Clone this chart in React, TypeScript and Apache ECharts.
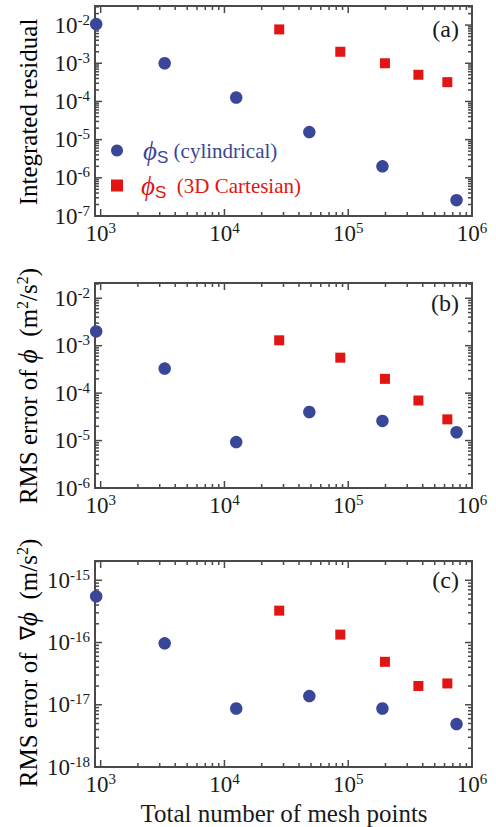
import React, { useEffect, useRef } from "react";
import * as echarts from "echarts";

const SERIF = "'Liberation Serif', 'Times New Roman', Times, serif";
const SANS = "'Liberation Sans', Arial, Helvetica, sans-serif";
const BLUE = "#3a4698";
const RED = "#e21414";
const FRAME = "#4a4a4a";
const INK = "#1a1a1a";

// Mesh sizes (x)
const meshCyl = [920, 3290, 12450, 48500, 189000, 750000];
const meshCart = [27700, 86300, 198000, 369000, 632000];

// (a) Integrated residual
const residualCyl = [0.0106, 1.0e-3, 1.26e-4, 1.58e-5, 2.0e-6, 2.6e-7];
const residualCart = [7.7e-3, 2.0e-3, 1.0e-3, 5.0e-4, 3.2e-4];

// (b) RMS error of phi
const rmsPhiCyl = [2.0e-3, 3.3e-4, 9.3e-6, 4.0e-5, 2.6e-5, 1.5e-5];
const rmsPhiCart = [1.3e-3, 5.6e-4, 2.0e-4, 7.0e-5, 2.8e-5];

// (c) RMS error of grad phi
const rmsGradCyl = [5.5e-16, 9.7e-17, 8.7e-18, 1.38e-17, 8.7e-18, 4.9e-18];
const rmsGradCart = [3.25e-16, 1.34e-16, 4.9e-17, 2.0e-17, 2.2e-17];

const xRange = [900, 1e6];
const yRanges = [
  [1e-7, 0.0316],
  [1e-6, 0.021],
  [1e-18, 2.04e-15],
];
const panelLabels = ["(a)", "(b)", "(c)"];

const grids = [
  { left: 95, right: 24, top: 6, height: 210 },
  { left: 95, right: 24, top: 283, height: 205 },
  { left: 95, right: 24, top: 561, height: 206 },
];

function isDecade(v: number) {
  const l = Math.log10(v);
  return Math.abs(l - Math.round(l)) < 1e-6;
}

function labelFmt(v: number) {
  if (!isDecade(v)) return "";
  const e = Math.round(Math.log10(v));
  return `{b|10}{s|${e < 0 ? "-" + Math.abs(e) : e}}`;
}

const labelRich = {
  b: { fontSize: 23, fontFamily: SERIF, color: INK, lineHeight: 26 },
  s: { fontSize: 15, fontFamily: SERIF, color: INK, lineHeight: 15, verticalAlign: "top" },
};

function tickData(xr: number[], yr: number[]) {
  const out: number[][] = [];
  const add = (r: number[], axis: number) => {
    const d0 = Math.floor(Math.log10(r[0]));
    const d1 = Math.ceil(Math.log10(r[1]));
    for (let d = d0; d <= d1; d++) {
      for (let k = 1; k <= 9; k++) {
        const v = k * Math.pow(10, d);
        if (v >= r[0] * 0.99999 && v <= r[1] * 1.00001) {
          if (axis === 0) out.push([v, yr[0], k === 1 ? 1 : 0, 0]);
          else out.push([xr[0], v, k === 1 ? 1 : 0, 1]);
        }
      }
    }
  };
  add(xr, 0);
  add(yr, 1);
  return out;
}

export default function App() {
  const ref = useRef<HTMLDivElement>(null);
  useEffect(() => {
    if (!ref.current) return;
    const chart = echarts.init(ref.current, undefined, { renderer: "svg" });

    const cylData = [residualCyl, rmsPhiCyl, rmsGradCyl];
    const cartData = [residualCart, rmsPhiCart, rmsGradCart];

    const series: any[] = [];
    grids.forEach((_, i) => {
      series.push({
        type: "scatter",
        name: "cyl",
        xAxisIndex: i,
        yAxisIndex: i,
        symbol: "circle",
        symbolSize: 12.5,
        itemStyle: { color: BLUE, opacity: 1 },
        clip: false,
        data: meshCyl.map((x, j) => [x, cylData[i][j]]),
        z: 3,
      });
      series.push({
        type: "scatter",
        name: "cart",
        xAxisIndex: i,
        yAxisIndex: i,
        symbol: "rect",
        symbolSize: 10,
        itemStyle: { color: RED, opacity: 1 },
        clip: false,
        data: meshCart.map((x, j) => [x, cartData[i][j]]),
        z: 3,
      });
      series.push({
        type: "custom",
        name: "ticks" + i,
        xAxisIndex: i,
        yAxisIndex: i,
        silent: true,
        clip: false,
        encode: { x: 0, y: 1 },
        data: tickData(xRange, yRanges[i]),
        renderItem: (params: any, api: any) => {
          const cs = params.coordSys;
          const major = api.value(2) === 1;
          const kind = api.value(3);
          const len = major ? 7 : 4;
          const pt = api.coord([api.value(0), api.value(1)]);
          const st = { stroke: FRAME, lineWidth: 1.5 };
          if (kind === 0) {
            const x = pt[0];
            const yb = cs.y + cs.height;
            return {
              type: "group",
              children: [
                { type: "line", shape: { x1: x, y1: yb, x2: x, y2: yb - len }, style: st },
                { type: "line", shape: { x1: x, y1: cs.y, x2: x, y2: cs.y + len }, style: st },
              ],
            };
          }
          const y = pt[1];
          const xr = cs.x + cs.width;
          return {
            type: "group",
            children: [
              { type: "line", shape: { x1: cs.x, y1: y, x2: cs.x + len, y2: y }, style: st },
              { type: "line", shape: { x1: xr, y1: y, x2: xr - len, y2: y }, style: st },
            ],
          };
        },
        z: 2,
      });
    });

    const graphic: any[] = [];
    const labelY = [29, 303, 580];
    panelLabels.forEach((t, i) => {
      graphic.push({
        type: "text",
        x: 459,
        y: labelY[i],
        style: {
          text: t,
          fontSize: 24,
          fontFamily: SERIF,
          fill: INK,
          align: "right",
          verticalAlign: "middle",
        },
      });
    });

    const titleRich = {
      t: { fontSize: 25, fontFamily: SERIF, color: INK, lineHeight: 28 },
      n: { fontSize: 21, fontFamily: SERIF, color: INK, lineHeight: 28 },
      p: { fontSize: 27, fontFamily: SERIF, fontStyle: "italic", color: INK, lineHeight: 28 },
      s: { fontSize: 16, fontFamily: SERIF, color: INK, verticalAlign: "top", lineHeight: 16 },
    };
    const yTitles = [
      { y: 112, text: "{t|Integrated residual}" },
      { y: 386, text: "{t|RMS error of }{p|\u03d5}{t|  (m}{s|2}{t|/s}{s|2}{t|)}" },
      { y: 663, text: "{t|RMS error of  }{n|\u2207}{p|\u03d5}{t|  (m/s}{s|2}{t|)}" },
    ];
    yTitles.forEach((yt) => {
      graphic.push({
        type: "text",
        x: 28,
        y: yt.y,
        rotation: Math.PI / 2,
        style: {
          text: yt.text,
          rich: titleRich,
          align: "center",
          verticalAlign: "middle",
        },
      });
    });
    graphic.push({
      type: "text",
      x: 284,
      y: 813,
      style: {
        text: "Total number of mesh points",
        fontSize: 25,
        fontFamily: SERIF,
        fill: INK,
        align: "center",
        verticalAlign: "middle",
      },
    });

    const legendRich = {
      pb: { fontSize: 27, fontFamily: SERIF, fontStyle: "italic", color: BLUE, lineHeight: 31, padding: [0, 0, 0, 15] },
      sb: { fontSize: 17, fontFamily: SANS, color: BLUE, verticalAlign: "top", lineHeight: 17, padding: [14, 0, 0, 0] },
      tb: { fontSize: 21, fontFamily: SERIF, color: BLUE, lineHeight: 31 },
      pr: { fontSize: 27, fontFamily: SERIF, fontStyle: "italic", color: RED, lineHeight: 31, padding: [0, 0, 0, 13] },
      sr: { fontSize: 17, fontFamily: SANS, color: RED, verticalAlign: "top", lineHeight: 17, padding: [14, 0, 0, 0] },
      tr: { fontSize: 21, fontFamily: SERIF, color: RED, lineHeight: 31 },
    };

    const option: any = {
      animation: false,
      backgroundColor: "#fff",
      grid: grids.map((g) => ({
        ...g,
        show: true,
        borderColor: FRAME,
        borderWidth: 2,
        backgroundColor: "transparent",
      })),
      xAxis: grids.map((_, i) => ({
        type: "log",
        logBase: 10,
        gridIndex: i,
        min: xRange[0],
        max: xRange[1],
        axisLine: { show: false },
        axisTick: { show: false },
        splitLine: { show: false },
        minorTick: { show: false },
        axisLabel: {
          margin: 4,
          formatter: labelFmt,
          rich: labelRich,
          showMinLabel: true,
          showMaxLabel: true,
        },
      })),
      yAxis: grids.map((_, i) => ({
        type: "log",
        logBase: 10,
        gridIndex: i,
        min: yRanges[i][0],
        max: yRanges[i][1],
        axisLine: { show: false },
        axisTick: { show: false },
        splitLine: { show: false },
        axisLabel: {
          margin: 5,
          formatter: labelFmt,
          rich: labelRich,
        },
      })),
      legend: {
        orient: "vertical",
        left: 106,
        top: 130,
        itemWidth: 12,
        itemHeight: 12,
        itemGap: 4,
        selectedMode: false,
        data: [
          { name: "cyl", icon: "circle", itemStyle: { color: BLUE } },
          { name: "cart", icon: "rect", itemStyle: { color: RED } },
        ],
        formatter: (name: string) =>
          name === "cyl"
            ? "{pb|\u03d5}{sb|S}{tb| (cylindrical)}"
            : "{pr|\u03d5}{sr|S}{tr|  (3D Cartesian)}",
        textStyle: { rich: legendRich },
      },
      series,
      graphic,
    };
    chart.setOption(option);
    return () => chart.dispose();
  }, []);

  return (
    <div
      ref={ref}
      style={{ position: "absolute", left: 0, top: 0, width: 496, height: 827, background: "#fff" }}
    />
  );
}
